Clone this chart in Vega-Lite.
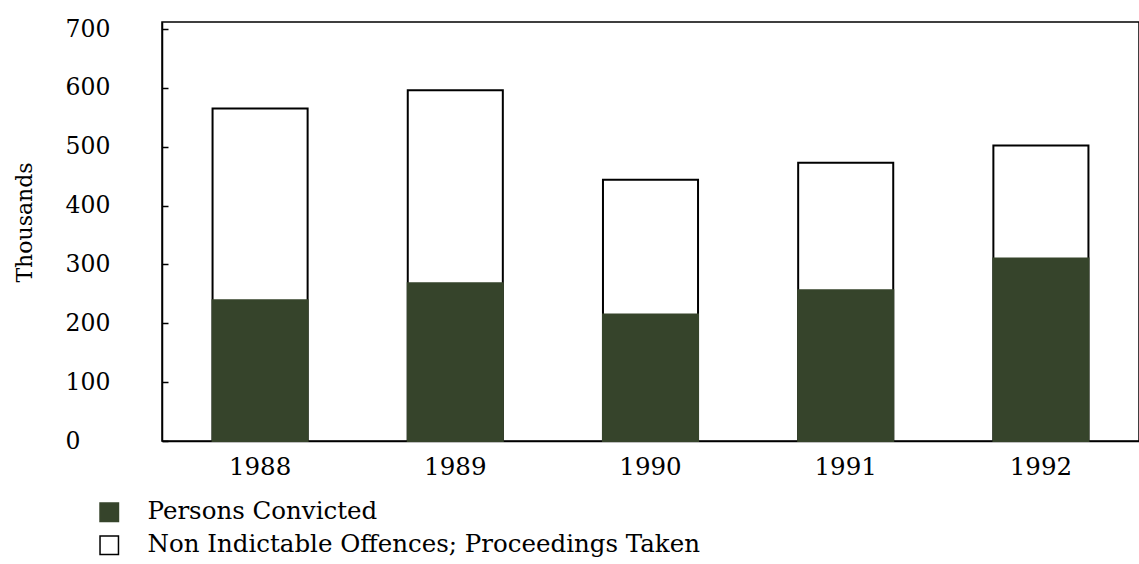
{
  "$schema": "https://vega.github.io/schema/vega-lite/v6.json",
  "autosize": {"type": "none"},
  "padding": {"left": 162, "top": 22, "right": 0, "bottom": 123},
  "width": 977,
  "height": 419,
  "background": "white",
  "config": {
    "font": "DejaVu Serif",
    "view": {"stroke": "black", "strokeWidth": 1.5},
    "axis": {"grid": false, "domainColor": "black", "domainWidth": 1.5, "labelColor": "black", "titleColor": "black", "labelFont": "DejaVu Serif", "titleFont": "DejaVu Serif", "titleFontWeight": "normal"}
  },
  "data": {
    "values": [
      {"year": "1988", "series": "Non Indictable Offences; Proceedings Taken", "value": 565, "ord": 1},
      {"year": "1989", "series": "Non Indictable Offences; Proceedings Taken", "value": 596, "ord": 1},
      {"year": "1990", "series": "Non Indictable Offences; Proceedings Taken", "value": 444, "ord": 1},
      {"year": "1991", "series": "Non Indictable Offences; Proceedings Taken", "value": 473, "ord": 1},
      {"year": "1992", "series": "Non Indictable Offences; Proceedings Taken", "value": 502, "ord": 1},
      {"year": "1988", "series": "Persons Convicted", "value": 239, "ord": 2},
      {"year": "1989", "series": "Persons Convicted", "value": 268, "ord": 2},
      {"year": "1990", "series": "Persons Convicted", "value": 215, "ord": 2},
      {"year": "1991", "series": "Persons Convicted", "value": 256, "ord": 2},
      {"year": "1992", "series": "Persons Convicted", "value": 310, "ord": 2}
    ]
  },
  "mark": {"type": "bar", "strokeWidth": 2},
  "encoding": {
    "x": {
      "field": "year", "type": "nominal",
      "scale": {"paddingInner": 0.513, "paddingOuter": 0.259},
      "axis": {"title": null, "labelAngle": 0, "ticks": false, "labelFontSize": 24.5, "labelPadding": 14, "labelBaseline": "top", "domain": true}
    },
    "y": {
      "field": "value", "type": "quantitative", "stack": null,
      "scale": {"domain": [0, 712], "nice": false},
      "axis": {
        "title": "Thousands", "values": [0, 100, 200, 300, 400, 500, 600, 700],
        "tickSize": -6, "tickColor": "black", "tickWidth": 1.5,
        "labelAlign": "left", "labelBaseline": "middle", "labelPadding": 103, "labelFontSize": 23.5,
        "titleFontSize": 22, "titleX": -138, "titleY": 200, "titleAngle": -90, "titleAlign": "center", "titleBaseline": "middle"
      }
    },
    "color": {
      "field": "series", "type": "nominal",
      "scale": {"domain": ["Persons Convicted", "Non Indictable Offences; Proceedings Taken"], "range": ["#36442b", "white"]},
      "legend": {
        "title": null, "orient": "none", "legendX": -65, "legendY": 478,
        "symbolType": "square", "symbolSize": 340, "symbolStrokeWidth": 1.5,
        "labelFontSize": 24.5, "labelOffset": 26, "labelLimit": 900, "rowPadding": 7, "labelColor": "black", "labelFont": "DejaVu Serif"
      }
    },
    "stroke": {
      "field": "series", "type": "nominal",
      "scale": {"domain": ["Persons Convicted", "Non Indictable Offences; Proceedings Taken"], "range": ["#36442b", "black"]},
      "legend": null
    },
    "order": {"field": "ord", "type": "quantitative"}
  }
}
